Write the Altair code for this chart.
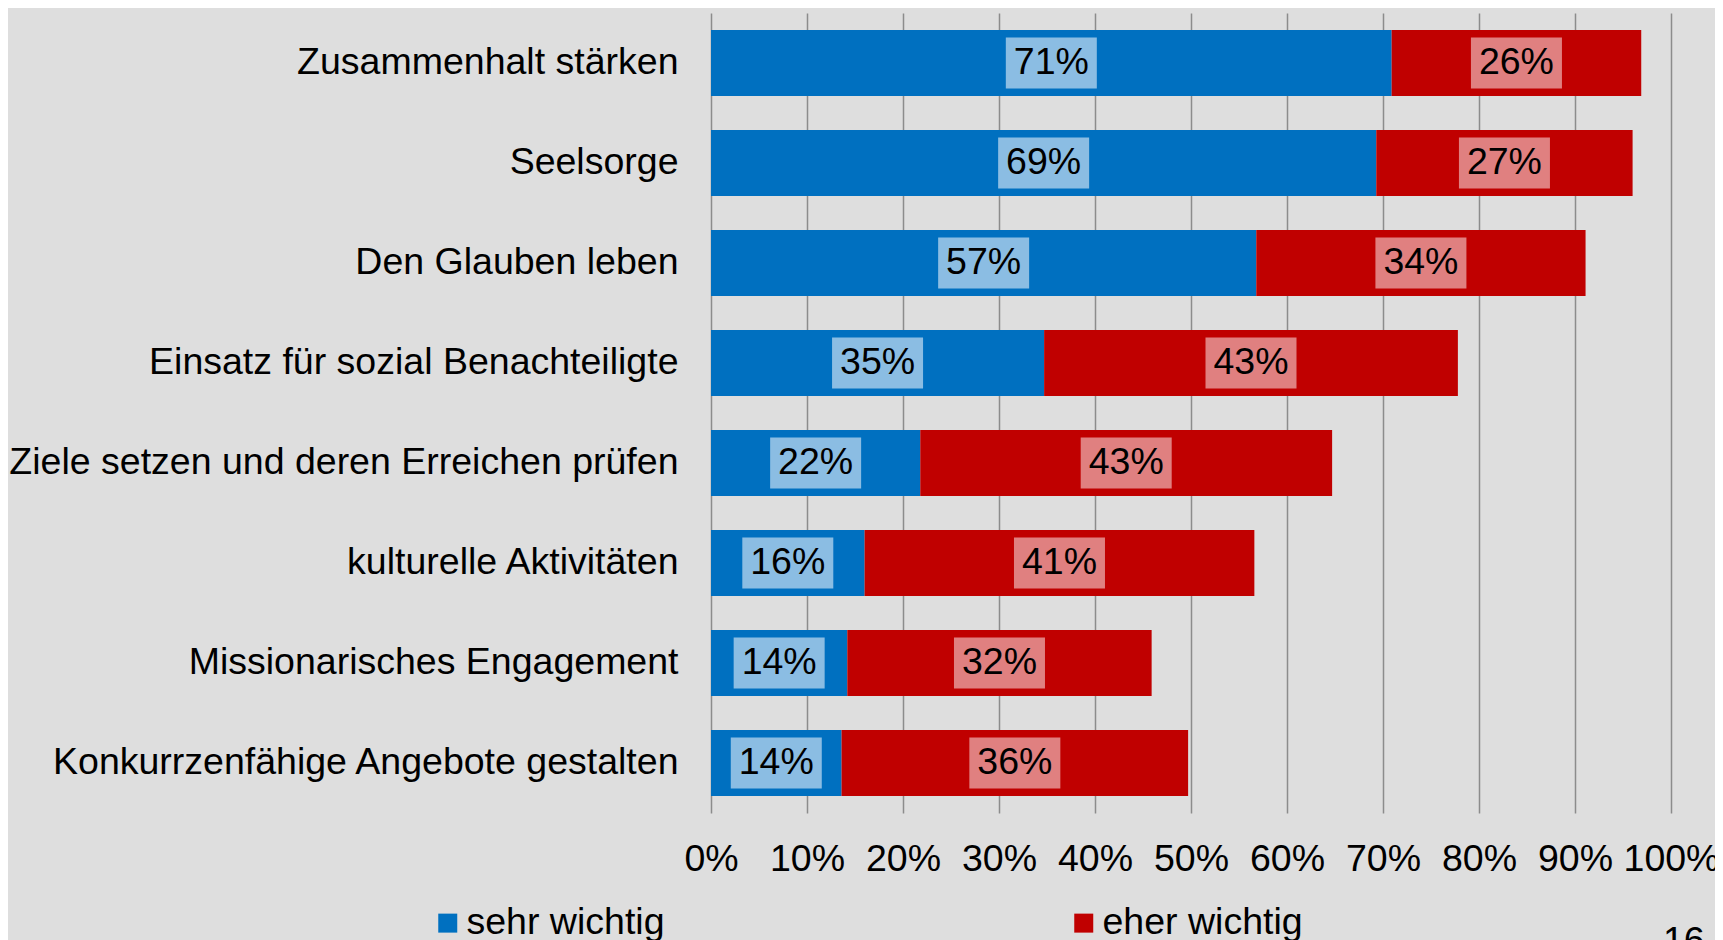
import altair as alt
import pandas as pd

categories = [
    "Zusammenhalt stärken",
    "Seelsorge",
    "Den Glauben leben",
    "Einsatz für sozial Benachteiligte\u00a0",
    "Ziele setzen und deren Erreichen prüfen",
    "kulturelle Aktivitäten",
    "Missionarisches Engagement",
    "Konkurrzenfähige Angebote gestalten",
]
sehr_wichtig = [70.9, 69.3, 56.8, 34.7, 21.8, 16.0, 14.2, 13.6]
eher_wichtig = [26.0, 26.7, 34.3, 43.1, 42.9, 40.6, 31.7, 36.1]
sehr_labels = ["71%", "69%", "57%", "35%", "22%", "16%", "14%", "14%"]
eher_labels = ["26%", "27%", "34%", "43%", "43%", "41%", "32%", "36%"]
series = ["sehr wichtig", "eher wichtig"]
bar_colors = ["#0070C0", "#C00000"]
box_colors = ["#8BBDE3", "#E08080"]
x_ticks = list(range(0, 101, 10))
page_number = "16"

FONT = "Liberation Sans, Arial, sans-serif"
FS = 37.5

rows = []
for i, cat in enumerate(categories):
    s = sehr_wichtig[i]
    e = eher_wichtig[i]
    rows.append({"cat": cat, "series": series[0], "start": 0.0, "end": s,
                 "mid": s / 2, "label": sehr_labels[i]})
    rows.append({"cat": cat, "series": series[1], "start": s, "end": s + e,
                 "mid": s + e / 2, "label": eher_labels[i]})
df = pd.DataFrame(rows)

y_enc = alt.Y(
    "cat:N",
    sort=categories,
    title=None,
    scale=alt.Scale(paddingInner=0.34, paddingOuter=0.17),
    axis=alt.Axis(ticks=False, domain=False, grid=False, labelFontSize=FS,
                  labelFont=FONT, labelColor="black", labelPadding=33,
                  labelLimit=800),
)
x_scale = alt.Scale(domain=[0, 100], nice=False)

base = alt.Chart(df)

bars = base.mark_bar(size=66).encode(
    x=alt.X(
        "start:Q",
        scale=x_scale,
        title=None,
        axis=alt.Axis(values=x_ticks, labelExpr="datum.value + '%'", grid=True,
                      gridColor="#8c8c8c", gridWidth=1.5, ticks=False,
                      domain=False, labelFontSize=FS, labelFont=FONT,
                      labelColor="black", labelPadding=27, labelFlush=False,
                      labelOverlap=False),
    ),
    x2="end:Q",
    y=y_enc,
    color=alt.Color(
        "series:N",
        sort=series,
        scale=alt.Scale(domain=series, range=bar_colors),
        legend=alt.Legend(title=None, orient="none", legendX=-282, legendY=891,
                          direction="horizontal", columns=2, columnPadding=400,
                          symbolType="square", symbolSize=361,
                          symbolStrokeWidth=0, symbolOpacity=1,
                          labelFontSize=FS, labelFont=FONT, labelColor="black",
                          labelOffset=0, padding=0, labelLimit=600),
    ),
)

boxes = base.mark_point(
    shape="M-1,-0.56H1V0.56H-1Z", size=8281, filled=True, opacity=1,
    strokeWidth=0,
).encode(
    x=alt.X("mid:Q", scale=x_scale),
    y=alt.Y("cat:N", sort=categories),
    fill=alt.Fill("series:N", scale=alt.Scale(domain=series, range=box_colors),
                  legend=None),
)

texts = base.mark_text(fontSize=FS, font=FONT, color="black",
                       baseline="middle").encode(
    x=alt.X("mid:Q", scale=x_scale),
    y=alt.Y("cat:N", sort=categories),
    text="label:N",
)

page = alt.Chart(pd.DataFrame({"t": [page_number]})).mark_text(
    fontSize=FS, font=FONT, color="black", align="left", baseline="alphabetic"
).encode(text="t:N", x=alt.value(952), y=alt.value(940))

chart = alt.layer(bars, boxes, texts, page).properties(
    width=960,
    height=800,
    padding={"left": 703, "top": 5, "right": 44, "bottom": 135},
    autosize=alt.AutoSizeParams(type="none"),
    background="#dedede",
).configure_view(stroke=None)

chart.save("out.html", embed_options={"renderer": "svg", "actions": False})
